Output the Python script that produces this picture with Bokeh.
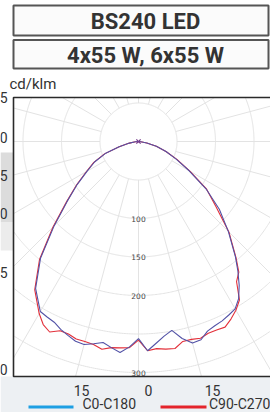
import numpy as np
from bokeh.plotting import figure
from bokeh.models import Range1d
from bokeh.core.properties import value
from bokeh.embed import file_html
from bokeh.resources import INLINE

# ---------------- data ----------------
title_1 = "BS240 LED"
title_2 = "4x55 W, 6x55 W"
unit_label = "cd/klm"
series_names = ["C0-C180", "C90-C270"]

gamma = [-90, -85, -80, -75, -70, -65, -60, -55, -50, -45, -40, -35, -30,
         -27.5, -25, -22.5, -20, -17.5, -15, -12.5, -10, -7.5, -5, -2.5, 0,
         2.5, 5, 7.5, 10, 12.5, 15, 17.5, 20, 22.5, 25, 27.5,
         30, 32.5, 35, 37.5, 40, 45, 50, 55, 60, 65, 70, 75, 80, 85, 90]

c0_c180 = [0, 4, 12, 26, 46, 63, 77, 97, 121, 155, 198, 233, 255,
           257, 259, 264, 268, 272, 273, 269, 265, 270, 275, 267, 256,
           272, 263, 255, 249, 262, 271, 270, 262, 259, 257, 254,
           251, 242, 228, 212, 196, 165, 137, 107, 76, 54, 38, 24, 11, 3, 0]

c90_c270 = [0, 4, 12, 26, 47, 64, 78, 98, 122, 157, 200, 235, 258,
            268, 273, 266, 266, 269, 269, 270, 274, 270, 269, 268, 258,
            272, 270, 272, 273, 266, 266, 268, 265, 265, 266, 260,
            253, 244, 222, 214, 197, 166, 131, 108, 77, 55, 38, 24, 11, 3, 0]

grid_radii = [50, 100, 150, 200, 250, 300, 350, 400, 450]
radius_label_values = [100, 150, 200, 300]
side_angle_labels = ["5", "0", "5", "0", "5", "0"]      # visible ends of 105, 90, 75, 60, 45, 30
bottom_angle_labels = ["15", "0", "15"]

# ---------------- layout helpers (pixels -> data) ----------------
W, H = 270, 412
CX, CY = 138.0, 141.0      # pole of the polar diagram (px)
S = 0.77                   # px per cd/klm
FL, FT, FR, FB = 13.0, 97.0, 300.0, 376.0   # polar frame (px)


def dx(px):
    return (np.asarray(px, dtype=float) - CX) / S


def dy(py):
    return (CY - np.asarray(py, dtype=float)) / S


FONT = value("Roboto")

p = figure(width=W, height=H, output_backend="svg", toolbar_location=None,
           x_range=Range1d(float(dx(0)), float(dx(W))),
           y_range=Range1d(float(dy(H)), float(dy(0))),
           min_border=0, min_border_left=0, min_border_right=0,
           min_border_top=0, min_border_bottom=0)
p.axis.visible = False
p.grid.visible = False
p.outline_line_color = None
p.background_fill_color = "white"
p.border_fill_color = "white"

# background shading
p.quad(left=[float(dx(0))], right=[float(dx(300))], top=[float(dy(376))], bottom=[float(dy(420))],
       fill_color="#edf0f3", line_color=None)
p.quad(left=[float(dx(0))], right=[float(dx(13))], top=[float(dy(152))], bottom=[float(dy(222))],
       fill_color="#dcdcdc", line_color=None)
p.quad(left=[float(dx(0))], right=[float(dx(13))], top=[float(dy(222))], bottom=[float(dy(250))],
       fill_color="#ececec", line_color=None)

# title boxes
p.quad(left=[float(dx(13)), float(dx(13))], right=[float(dx(268)), float(dx(268))],
       top=[float(dy(5)), float(dy(39.5))], bottom=[float(dy(35)), float(dy(68))],
       fill_color="#fbfbfb", line_color="#555555", line_width=2)
p.text(x=[float(dx(145)), float(dx(145))], y=[float(dy(21)), float(dy(55))],
       text=[title_1, title_2], text_font=FONT, text_font_style="bold",
       text_font_size="22px", text_align="center", text_baseline="middle",
       text_color="#333333")

p.text(x=[float(dx(9))], y=[float(dy(83))], text=[unit_label], text_font=FONT,
       text_font_size="15px", text_align="left", text_baseline="middle",
       text_color="#333333")

# ---------------- polar grid (clipped to frame) ----------------
def inside(X, Y):
    return (X >= FL) & (X <= FR) & (Y >= FT) & (Y <= FB)


t = np.radians(np.arange(0, 360.5, 0.5))
for r in grid_radii:
    xd = r * np.sin(t)
    yd = -r * np.cos(t)
    X = CX + S * xd
    Y = CY - S * yd
    m = inside(X, Y)
    xd = np.where(m, xd, np.nan)
    yd = np.where(m, yd, np.nan)
    p.line(xd, yd, line_color="#e3e3e3", line_width=1)

x0s, y0s, x1s, y1s = [], [], [], []
for a in range(0, 360, 15):
    ar = np.radians(a)
    ux, uy = np.sin(ar), -np.cos(ar)          # data direction (0 deg = down)
    px_dir, py_dir = ux, -uy                  # pixel direction
    cands = []
    if px_dir > 1e-9:
        cands.append((FR - CX) / px_dir)
    if px_dir < -1e-9:
        cands.append((FL - CX) / px_dir)
    if py_dir > 1e-9:
        cands.append((FB - CY) / py_dir)
    if py_dir < -1e-9:
        cands.append((FT - CY) / py_dir)
    tmax = min(cands) / S
    x0s.append(50 * ux); y0s.append(50 * uy)
    x1s.append(tmax * ux); y1s.append(tmax * uy)
p.segment(x0=x0s, y0=y0s, x1=x1s, y1=y1s, line_color="#e3e3e3", line_width=1)

# frame
p.quad(left=[float(dx(13))], right=[float(dx(310))], top=[float(dy(97))], bottom=[float(dy(376))],
       fill_color=None, line_color="#2a2a2a", line_width=1.6)

# radius labels
p.text(x=[0.0] * len(radius_label_values), y=[-v for v in radius_label_values],
       text=[str(v) for v in radius_label_values], text_font=value("DejaVu Sans"),
       text_font_size="7.5px", text_align="center", text_baseline="middle",
       text_color="#444444")

# ---------------- curves ----------------
g = np.radians(np.array(gamma, dtype=float))
for vals, col, w in [(c90_c270, "#e3303a", 1.1), (c0_c180, "#5252a6", 1.1)]:
    v = np.array(vals, dtype=float)
    p.line(v * np.sin(g), -v * np.cos(g), line_color=col, line_width=w)

p.scatter(x=[0.0], y=[0.0], marker="x", size=6, line_color="#7a3f8f", line_width=1.2)

# angle labels around the frame (only their ends are visible on the left edge)
p.text(x=[float(dx(7))] * len(side_angle_labels),
       y=list(dy([97, 137, 175, 213, 272, 369])),
       text=side_angle_labels, text_font=FONT, text_font_size="14px",
       text_align="right", text_baseline="middle", text_color="#333333")
p.text(x=list(dx([81, 148, 212])), y=[float(dy(390))] * 3,
       text=bottom_angle_labels, text_font=FONT, text_font_size="14px",
       text_align="center", text_baseline="middle", text_color="#333333")

# legend
p.segment(x0=list(dx([28, 160])), y0=[float(dy(406.5))] * 2,
          x1=list(dx([73, 206])), y1=[float(dy(406.5))] * 2,
          line_color=["#1e9fe3", "#e4242b"], line_width=3)
p.text(x=list(dx([82, 208.5])), y=[float(dy(403))] * 2, text=series_names,
       text_font=FONT, text_font_size="14px", text_align="left",
       text_baseline="middle", text_color="#333333")

open("out.html", "w").write(file_html(p, INLINE))
